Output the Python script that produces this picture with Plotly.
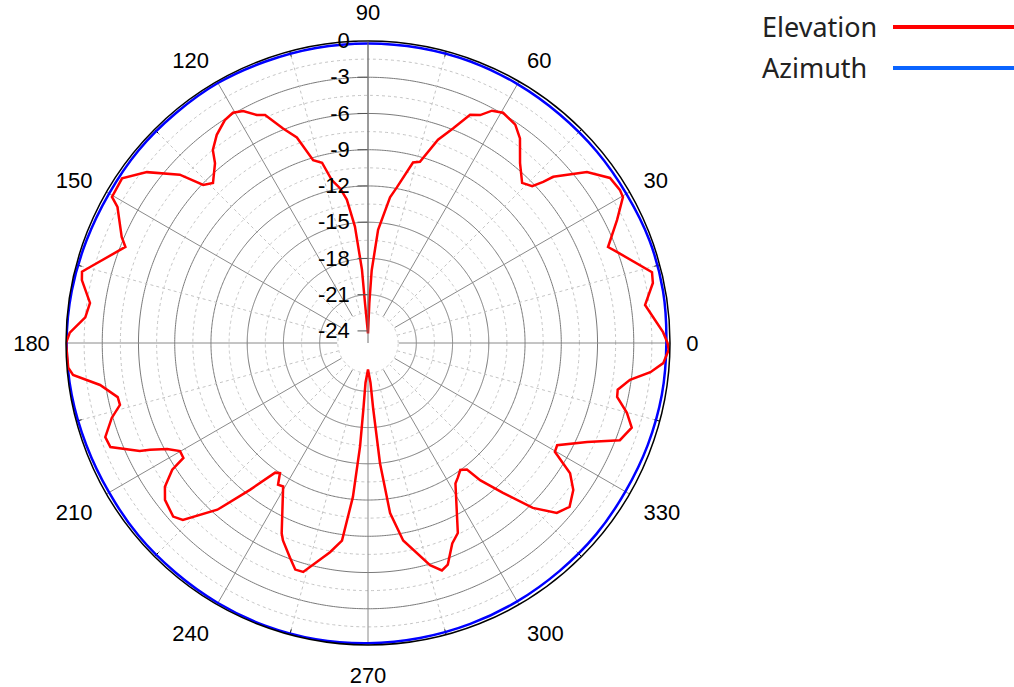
import numpy as np
import plotly.graph_objects as go

# ---------------- data ----------------
elev_theta = [0, 2.1, 7.8, 11.9, 14.0, 20.1, 21.8, 26.3, 29.8, 31.3, 34.3, 38.0, 41.9, 42.6, 43.7, 46.1,
              49.8, 53.4, 56.0, 59.6, 61.9, 63.8, 65.9, 68.4, 71.0, 74.0, 76.0, 79.5, 81.4, 84.9, 87.1,
              88.1, 90.0, 94.3, 94.7, 96.4, 98.4, 100.2, 102.5, 104.3, 106.7, 109.1, 111.6, 114.3, 116.0,
              118.3, 120.4, 122.7, 126.0, 128.8, 130.4, 134.1, 136.2, 138.2, 142.3, 146.2, 150.3, 151.5,
              156.7, 158.4, 164.7, 166.0, 167.6, 171.8, 174.8, 178.0, 180.0, 184.7, 186.2, 188.9, 192.2,
              194.0, 196.3, 199.7, 202.0, 205.3, 206.1, 207.8, 209.9, 211.9, 212.9, 215.3, 217.7, 221.7,
              223.7, 227.9, 231.2, 234.4, 235.9, 237.6, 239.4, 245.6, 246.7, 250.0, 252.2, 254.2, 259.7,
              262.5, 264.4, 265.6, 266.0, 266.4, 270.0, 273.6, 274.5, 275.7, 277.4, 280.1, 285.6, 288.0,
              289.8, 292.8, 295.3, 301.9, 303.7, 306.0, 308.0, 309.3, 312.0, 315.0, 318.0, 320.9, 324.4,
              327.2, 329.8, 331.6, 335.7, 338.9, 342.2, 344.9, 347.8, 349.4, 352.0, 354.1, 356.1, 358.7, 360.0]
elev_db = [-0.2, -0.56, -1.85, -0.9, -0.77, -3.06, -3.6, -2.0, -0.68, -0.6, -0.75, -2.0, -4.4, -5.3, -6.2, -6.6,
           -5.5, -3.9, -3.2, -2.9, -3.2, -3.97, -4.3, -5.9, -7.2, -9.4, -9.6, -11.9, -12.8, -15.6, -19.0,
           -21.7, -24.2, -21.7, -18.9, -15.3, -13.0, -12.0, -11.2, -9.6, -9.2, -7.0, -5.9, -4.3, -4.0,
           -3.2, -2.9, -3.07, -3.7, -4.5, -5.46, -6.56, -6.1, -4.1, -1.87, -0.5, -0.6, -1.4,
           -2.8, -3.4, -1.15, -0.6, -0.75, -1.75, -1.5, -0.3, 0.0, -0.1, -0.44, -2.55, -3.8,
           -3.84, -2.9, -1.9, -2.0, -4.1, -4.9, -6.2, -7.05, -7.0, -5.7, -4.4, -3.76, -3.4,
           -3.8, -6.4, -9.4, -11.8, -12.0, -11.1, -11.2, -7.7, -7.2, -6.1, -5.3, -5.3, -7.4,
           -8.5, -12.2, -16.4, -19.5, -21.7, -22.8, -21.7, -19.6, -15.0, -10.8, -8.4, -5.9, -5.2,
           -5.5, -7.0, -7.6, -11.3, -11.6, -12.0, -11.7, -10.3, -8.3, -5.7, -3.97, -3.5, -4.1,
           -5.1, -7.1, -7.2, -5.1, -2.65, -2.07, -2.8, -3.9, -3.97, -3.1, -1.5, -0.5, -0.1, -0.2]

azim_theta = [0, 10, 20, 30, 40, 50, 60, 70, 80, 90, 100, 110, 120, 130, 140, 150, 160, 170, 180,
              190, 200, 210, 220, 230, 240, 250, 260, 270, 280, 290, 300, 310, 320, 330, 340, 350, 360]
azim_db = [-0.3, -0.2, -0.2, -0.3, -0.3, -0.3, -0.25, -0.2, -0.2, -0.2, -0.2, -0.2, -0.15, -0.2, -0.2, -0.25,
           -0.2, -0.1, -0.05, -0.1, -0.2, -0.25, -0.2, -0.2, -0.15, -0.1, -0.1, -0.15, -0.2, -0.25, -0.3,
           -0.35, -0.35, -0.4, -0.35, -0.3, -0.3]

radial_ticks = [-24, -21, -18, -15, -12, -9, -6, -3, 0]
radial_labels = ["-24", "-21", "-18", "-15", "-12", "-9", "-6", "-3", "0"]
angle_ticks = list(range(0, 360, 30))
angle_labels = [str(a) for a in angle_ticks]

series_names = ["Elevation", "Azimuth"]
legend_colors = ["#FF0000", "#0A64FF"]

# ---------------- figure ----------------
W, H = 1014, 687
R_MIN, R_MAX = -25, 0
HOLE_R = -22.5
fig = go.Figure()

circ = np.linspace(0, 360, 721)
# grid circles every 1.5 dB (solid at multiples of 3)
for k in range(1, 15):
    rv = HOLE_R + 1.5 * k
    if rv >= 0:
        continue
    major = abs(rv / 3 - round(rv / 3)) < 1e-9
    fig.add_trace(go.Scatterpolar(r=[rv] * len(circ), theta=circ, mode="lines",
                                  line=dict(color="#7a7a7a" if major else "#c4c4c4", width=1,
                                            dash="solid" if major else "dot"),
                                  hoverinfo="skip", showlegend=False))
# radial grid lines every 15 deg (solid at multiples of 30)
for a in range(0, 360, 15):
    major = a % 30 == 0
    fig.add_trace(go.Scatterpolar(r=[HOLE_R, 0], theta=[a, a], mode="lines",
                                  line=dict(color="#8a8a8a" if major else "#c4c4c4", width=1,
                                            dash="solid" if major else "dot"),
                                  hoverinfo="skip", showlegend=False))
# inner tick marks on the outer circle
for a in range(15, 360, 30):
    fig.add_trace(go.Scatterpolar(r=[-0.45, 0], theta=[a, a], mode="lines",
                                  line=dict(color="black", width=1),
                                  hoverinfo="skip", showlegend=False))
# white centre
fig.add_trace(go.Scatterpolar(r=[HOLE_R + 0.05] * len(circ), theta=circ, mode="lines", fill="toself",
                              fillcolor="white", line=dict(color="white", width=0),
                              hoverinfo="skip", showlegend=False))
fig.add_trace(go.Scatterpolar(r=[HOLE_R] * len(circ), theta=circ, mode="lines",
                              line=dict(color="#c4c4c4", width=1, dash="dot"),
                              hoverinfo="skip", showlegend=False))

fig.add_trace(go.Scatterpolar(r=azim_db, theta=azim_theta, mode="lines", name=series_names[1],
                              line=dict(color="#0000FF", width=2.5, shape="spline"), showlegend=False))
fig.add_trace(go.Scatterpolar(r=elev_db, theta=elev_theta, mode="lines", name=series_names[0],
                              line=dict(color="#FF0000", width=2.5), showlegend=False))

cx, cy, rad = 368, 343, 302
fig.update_layout(
    width=W, height=H,
    margin=dict(l=0, r=0, t=0, b=0),
    paper_bgcolor="white",
    showlegend=False,
    polar=dict(
        domain=dict(x=[(cx - rad) / W, (cx + rad) / W], y=[1 - (cy + rad) / H, 1 - (cy - rad) / H]),
        bgcolor="white",
        radialaxis=dict(range=[R_MIN, R_MAX], angle=90, side="counterclockwise",
                        tickvals=radial_ticks, ticktext=radial_labels, tickangle=90,
                        showgrid=False, showline=True, linecolor="#707070", linewidth=1,
                        ticks="outside", ticklen=10, tickcolor="#555555",
                        tickfont=dict(family="Liberation Sans", size=22, color="black")),
        angularaxis=dict(rotation=0, direction="counterclockwise",
                         tickvals=angle_ticks, ticktext=angle_labels,
                         showgrid=False, showline=True, linecolor="black", linewidth=1.5,
                         ticks="outside", ticklen=11, tickcolor="rgba(0,0,0,0)",
                         tickfont=dict(family="Liberation Sans", size=22, color="black")),
    ),
)

# legend (text first, line sample after it)
legend_y = [27, 68]
for name, col, yy in zip(series_names, legend_colors, legend_y):
    fig.add_annotation(x=760 / W, y=1 - yy / H, xref="paper", yref="paper", text=name,
                       showarrow=False, xanchor="left", yanchor="middle",
                       font=dict(family="Noto Sans", size=27, color="#222222"))
    fig.add_shape(type="line", xref="paper", yref="paper", x0=893 / W, x1=1.0,
                  y0=1 - yy / H, y1=1 - yy / H, line=dict(color=col, width=4))

fig.write_html("out.html", config={"displayModeBar": False},
               post_script="document.body.style.margin='0px';document.body.style.overflow='hidden';")
